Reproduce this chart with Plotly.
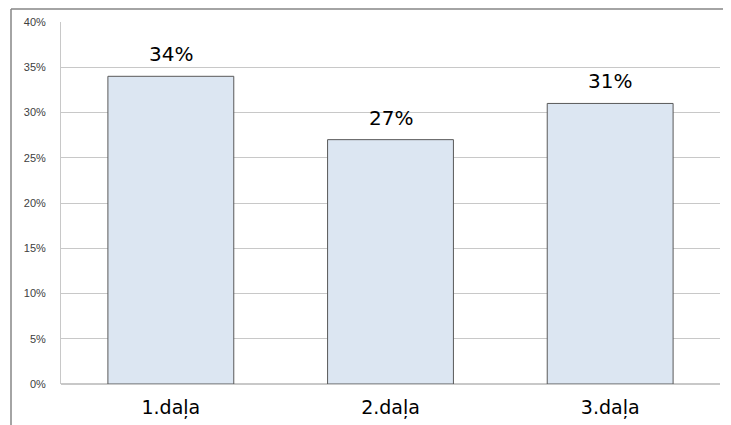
import plotly.graph_objects as go

categories = ["1.daļa", "2.daļa", "3.daļa"]
values = [34, 27, 31]
tick_vals = [0, 5, 10, 15, 20, 25, 30, 35, 40]
tick_text = [f"{v}%" for v in tick_vals]

fig = go.Figure()
fig.add_trace(go.Bar(
    x=categories,
    y=values,
    marker=dict(color="#dce6f2", line=dict(color="#595959", width=1)),
    hoverinfo="x+y",
))

for c, v in zip(categories, values):
    fig.add_annotation(
        x=c, y=v, text=f"{v}%", showarrow=False,
        xanchor="center", yanchor="bottom", yshift=8,
        font=dict(family="DejaVu Sans", size=20, color="#000000"),
    )

# page has 8px body margin: figure sits at (8, 8)
W, H = 723, 417
L, R, T, B = 53, 11, 14, 41
pw, ph = W - L - R, H - T - B
fx = lambda px: (px - 8 - L) / pw
fy = lambda py: 1 - (py - 8 - T) / ph

fig.update_layout(
    width=W, height=H,
    margin=dict(l=L, r=R, t=T, b=B, autoexpand=False),
    paper_bgcolor="white", plot_bgcolor="white",
    bargap=0.427,
    showlegend=False,
    font=dict(family="DejaVu Sans"),
    xaxis=dict(
        showgrid=False, showline=False, ticks="", automargin=False,
        ticklabelstandoff=10,
        tickfont=dict(family="DejaVu Sans", size=19, color="#000000"),
    ),
    yaxis=dict(
        range=[0, 40], tickvals=tick_vals, ticktext=tick_text, automargin=False,
        showgrid=True, gridcolor="#c8c8c8", gridwidth=1,
        showline=True, linecolor="#c8c8c8", linewidth=1,
        zeroline=True, zerolinecolor="#c8c8c8",
        ticks="", ticklen=0, ticklabelstandoff=12,
        tickfont=dict(family="Liberation Sans", size=11, color="#404040"),
    ),
    shapes=[
        dict(type="line", xref="paper", yref="paper",
             x0=fx(11), x1=fx(11), y0=fy(9), y1=fy(440),
             line=dict(color="#868686", width=1.5)),
        dict(type="line", xref="paper", yref="paper",
             x0=fx(11), x1=fx(740), y0=fy(9), y1=fy(9),
             line=dict(color="#868686", width=1.5)),
    ],
)

fig.write_html("out.html")
